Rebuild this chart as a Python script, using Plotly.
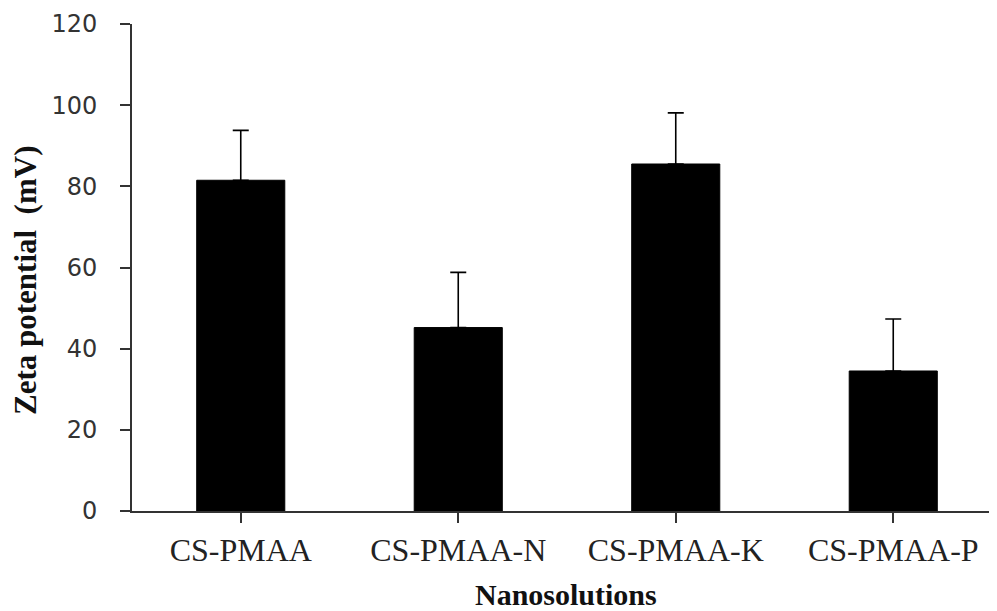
import plotly.graph_objects as go

categories = ["CS-PMAA", "CS-PMAA-N", "CS-PMAA-K", "CS-PMAA-P"]
zeta_mean = [81.5, 45.2, 85.5, 34.5]
zeta_err = [12.3, 13.6, 12.6, 12.8]
y_ticks = [0, 20, 40, 60, 80, 100, 120]

OFF = 8  # page body margin
W, H = 997 - OFF, 611 - OFF
L = 132 - OFF
T = 24 - OFF
B = H - (511 - OFF)
R = 0
pw = W - L - R
ph = H - T - B

fig = go.Figure(go.Bar(
    x=list(range(len(categories))),
    y=zeta_mean,
    width=0.405,
    marker=dict(color="black", line=dict(color="black", width=1)),
    error_y=dict(type="data", array=zeta_err, symmetric=False, arrayminus=[0]*len(zeta_err),
                 color="black", thickness=1.6, width=8),
))

fig.update_layout(
    width=W, height=H,
    margin=dict(l=L, r=R, t=T, b=B, pad=0),
    plot_bgcolor="white", paper_bgcolor="white",
    showlegend=False,
)
fig.update_xaxes(
    range=[-0.5, -0.5 + pw / 217.5],
    tickmode="array", tickvals=list(range(len(categories))), ticktext=categories,
    tickson="boundaries", ticks="outside", ticklen=10, tickwidth=2, tickcolor="#333",
    showline=True, linecolor="#333", linewidth=2,
    showgrid=False, zeroline=False,
    tickfont=dict(family="Liberation Serif", size=32, color="#222"),
    ticklabelstandoff=0,
)
fig.update_yaxes(
    range=[0, 120],
    tickmode="array", tickvals=y_ticks,
    ticks="outside", ticklen=10, tickwidth=2, tickcolor="#333",
    showline=True, linecolor="#333", linewidth=2,
    showgrid=False, zeroline=False,
    tickfont=dict(family="DejaVu Sans", size=24, color="#333"),
    ticklabelstandoff=18,
)

def px(xp):
    return (xp - OFF - L) / pw

def py(yp):
    return (H - B - (yp - OFF)) / ph

fig.add_annotation(
    text="<b>Zeta potential  (mV)</b>", textangle=-90,
    xref="paper", yref="paper",
    x=px(25), y=py(281),
    xanchor="center", yanchor="middle", showarrow=False,
    font=dict(family="Liberation Serif", size=31, color="#111"),
)
fig.add_annotation(
    text="<b>Nanosolutions</b>",
    xref="paper", yref="paper",
    x=px(565.5), y=py(594),
    xanchor="center", yanchor="middle", showarrow=False,
    font=dict(family="Liberation Serif", size=30, color="#111"),
)

fig.write_html("out.html")
